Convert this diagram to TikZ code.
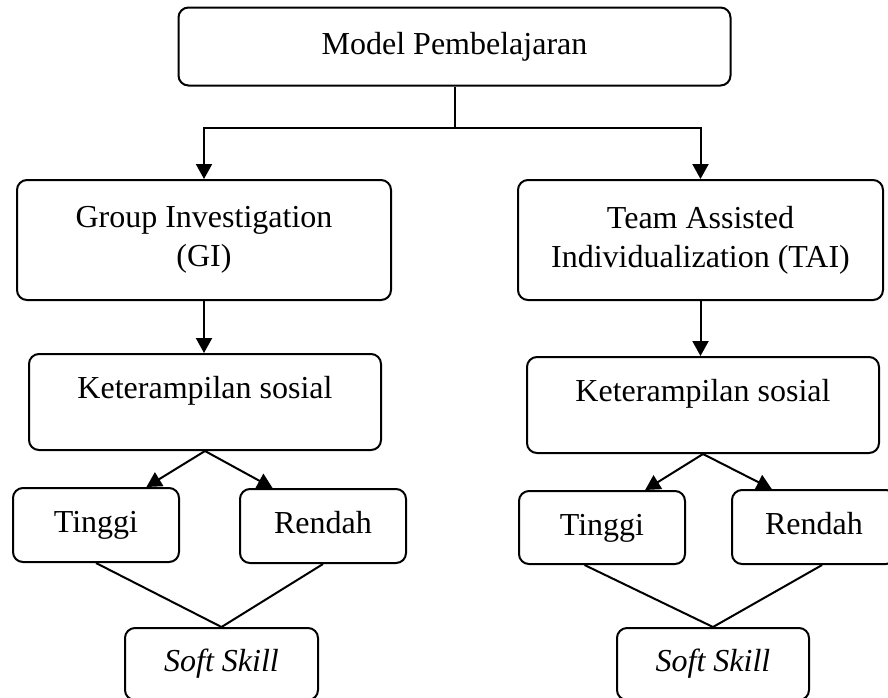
\documentclass[tikz,border=0pt]{standalone}
\usepackage{fontspec}
\setmainfont{Liberation Serif}
\usetikzlibrary{arrows.meta}

\begin{document}
\begin{tikzpicture}[x=0.5pt,y=-0.5pt,line width=1pt,
  kotak/.style={draw,rounded corners=5pt,align=center,inner sep=0pt,
    font=\fontsize{16}{19.5}\selectfont},
  satu/.style={kotak,text height=11pt,text depth=3.5pt},
  panah/.style={-{Triangle[length=7.5pt,width=8pt]}}]
\useasboundingbox (0,0) rectangle (888,697);
% kotak-kotak
\node [kotak,minimum width=276pt,minimum height=39pt] (model) at (454.5,46.5) {Model Pembelajaran};
\node [kotak,minimum width=187pt,minimum height=60pt] (gi) at (204,240) {Group Investigation\\(GI)};
\node [kotak,minimum width=182.5pt,minimum height=60pt] (tai) at (700.5,240) {Team Assisted\\Individualization (TAI)};
\node [satu,minimum width=176pt,minimum height=48pt,text depth=15pt] (ketgi) at (205,402) {Keterampilan sosial};
\node [satu,minimum width=176pt,minimum height=48pt,text depth=15pt] (kettai) at (703,405) {Keterampilan sosial};
\node [satu,minimum width=83pt,minimum height=37pt] (tinggigi) at (96,525) {Tinggi};
\node [satu,minimum width=83pt,minimum height=37pt] (rendahgi) at (323,526) {Rendah};
\node [satu,minimum width=83pt,minimum height=36.5pt] (tinggitai) at (602,527.5) {Tinggi};
\node [satu,minimum width=82pt,minimum height=37pt] (rendahtai) at (814,527) {Rendah};
\node [satu,minimum width=96.5pt,minimum height=36pt] (softgi) at (221.5,664) {\textit{Soft Skill}};
\node [satu,minimum width=96pt,minimum height=36pt] (softtai) at (713,664) {\textit{Soft Skill}};
% garis
\coordinate (cabang) at ([yshift=-20.5pt]model.south);
\draw (model.south) -- (cabang);
\draw [panah] (cabang) -| (gi);
\draw [panah] (cabang) -| (tai);
\draw [panah] (gi.south) -- (gi.south |- ketgi.north);
\draw [panah] (tai.south) -- (tai.south |- kettai.north);
\draw [panah] (ketgi.south) -- (tinggigi.37);
\draw [panah] (ketgi.south) -- (rendahgi.143);
\draw [panah] (kettai.south) -- (tinggitai.41);
\draw [panah] (kettai.south) -- (rendahtai.138);
\draw (tinggigi.south) -- (softgi.north) -- (rendahgi.south);
\draw (tinggitai.245) -- (softtai.north) -- (rendahtai.282);
\end{tikzpicture}
\end{document}
